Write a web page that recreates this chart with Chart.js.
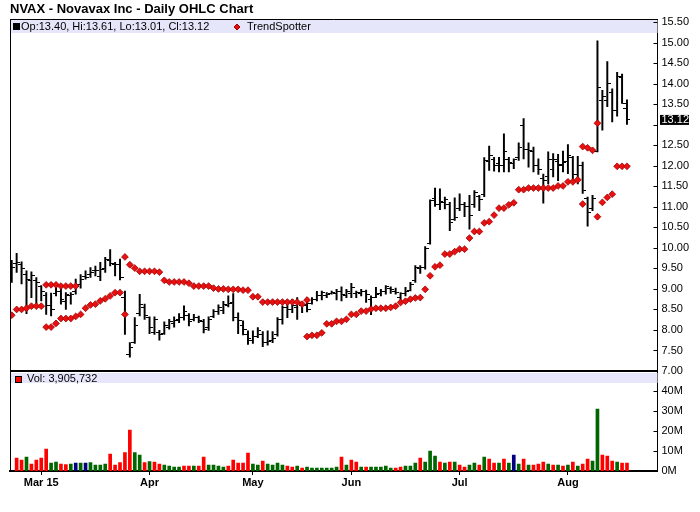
<!DOCTYPE html>
<html><head><meta charset="utf-8">
<script src="https://cdn.jsdelivr.net/npm/chart.js@4.4.1/dist/chart.umd.min.js"></script>
<style>html,body{margin:0;padding:0;background:#fff}canvas{display:block}</style>
</head><body>
<canvas id="c" width="700" height="512"></canvas>
<script>
// ---- data (daily bars, Feb 20 2015 .. Aug 19 2015) ----
const openP = [9.28,9.62,9.60,9.35,9.20,9.20,9.05,8.85,8.60,8.90,8.95,8.70,8.85,8.95,9.10,9.30,9.35,9.45,9.30,9.50,
9.70,9.60,9.60,8.80,7.40,7.70,8.40,8.55,8.30,7.95,7.95,7.92,8.05,8.15,8.25,8.30,8.35,8.25,8.30,8.20,
8.05,8.32,8.45,8.48,8.60,8.67,8.30,8.12,7.90,7.75,7.85,7.90,7.70,7.75,7.90,8.25,8.55,8.50,8.55,8.60,
8.60,8.65,8.75,8.85,8.85,8.90,8.90,8.95,8.85,8.90,8.90,8.90,8.95,8.75,8.80,8.88,8.95,9.00,8.95,8.80,
8.88,8.97,9.20,9.50,9.52,10.10,11.20,11.05,11.10,11.05,10.70,10.95,11.05,11.00,11.05,11.25,11.30,12.10,12.15,12.05,
12.00,12.15,12.05,12.20,12.99,12.40,12.35,12.00,11.70,11.73,11.90,12.10,12.00,12.10,12.20,11.80,12.01,11.20,10.95,12.34,
13.60,13.60,13.80,13.34,14.15,13.40];
const highP = [9.70,9.87,9.66,9.44,9.42,9.28,9.08,8.91,8.90,9.08,9.00,8.91,8.91,9.24,9.35,9.44,9.52,9.56,9.65,9.77,
9.96,9.65,9.73,8.95,7.69,8.30,8.87,8.63,8.32,8.32,7.99,8.20,8.26,8.32,8.40,8.59,8.40,8.38,8.34,8.26,
8.32,8.50,8.61,8.70,8.83,8.89,8.42,8.22,7.98,7.98,8.06,7.96,7.98,7.96,8.30,8.59,8.67,8.75,8.79,8.67,
8.79,8.79,8.94,8.95,8.91,8.95,8.99,9.05,8.99,9.14,8.95,8.99,8.97,8.83,9.04,8.99,9.08,9.05,9.02,8.91,
9.04,9.16,9.57,9.57,10.03,11.17,11.46,11.44,11.24,11.11,11.22,11.32,11.11,11.28,11.40,11.28,12.20,12.48,12.21,12.21,
12.78,12.21,12.17,12.56,13.15,12.56,12.46,12.17,11.80,12.34,12.30,12.28,12.36,12.52,12.23,12.23,12.09,11.24,11.28,15.05,
13.84,14.54,13.88,14.28,14.24,13.61];
const lowP = [9.16,9.40,9.12,8.40,8.79,8.59,8.71,8.38,8.34,8.83,8.63,8.50,8.63,8.87,9.02,9.24,9.28,9.32,9.20,9.40,
9.56,9.32,9.22,7.89,7.34,7.67,8.34,8.26,7.91,7.89,7.75,7.89,8.02,8.07,8.18,8.24,8.10,8.22,8.18,7.93,
7.99,8.30,8.38,8.40,8.56,8.22,7.91,7.88,7.65,7.67,7.81,7.59,7.63,7.69,7.85,8.14,8.30,8.42,8.26,8.42,
8.44,8.63,8.71,8.73,8.79,8.87,8.73,8.71,8.79,8.79,8.79,8.83,8.67,8.37,8.79,8.83,8.87,8.89,8.87,8.67,
8.83,8.95,9.16,9.38,9.48,10.09,11.01,10.93,10.95,10.42,10.67,10.91,10.76,10.46,10.99,10.91,11.25,11.89,11.87,11.85,
11.85,11.85,11.93,12.13,12.17,11.97,11.85,11.79,11.09,11.56,11.73,11.64,11.85,11.81,11.64,11.56,11.33,10.53,10.91,12.34,
12.87,13.44,13.07,13.21,13.52,13.01];
const closeP = [9.52,9.65,9.50,9.24,9.32,9.16,8.94,8.59,8.51,8.95,8.75,8.87,8.86,9.07,9.24,9.28,9.40,9.44,9.48,9.73,
9.62,9.60,9.28,8.38,7.58,8.10,8.63,8.35,8.05,8.25,7.89,8.10,8.20,8.22,8.30,8.45,8.20,8.30,8.22,8.00,
8.25,8.45,8.55,8.62,8.64,8.30,8.22,8.00,7.80,7.83,7.99,7.70,7.73,7.80,8.26,8.55,8.51,8.59,8.67,8.63,
8.51,8.75,8.83,8.91,8.87,8.92,8.95,8.86,8.95,9.04,8.91,8.95,8.87,8.79,8.87,8.95,9.05,8.99,8.92,8.89,
8.95,9.10,9.52,9.52,9.99,11.15,11.07,11.14,11.17,10.63,10.75,11.06,11.01,10.79,11.36,11.19,12.13,12.26,12.01,12.01,
12.34,12.09,12.15,12.46,12.40,12.38,12.01,11.90,11.64,12.15,12.15,12.03,12.09,12.26,11.79,12.01,11.40,10.87,11.20,13.92,
13.68,14.01,13.36,14.18,13.52,13.12];
// volume in millions of shares; direction: u = up, d = down, f = unchanged
const volumeM = [null,6.5,5.5,7.0,3.5,5.5,6.5,11.0,4.0,4.5,3.5,3.2,3.5,4.0,4.0,4.0,4.2,3.0,3.0,3.5,
8.5,3.0,4.2,9.2,20.5,9.2,8.0,4.2,4.7,4.5,3.5,3.0,2.5,2.0,2.0,2.5,2.5,2.5,2.5,7.0,
3.0,3.0,2.5,2.0,2.5,5.5,4.0,4.0,9.0,3.5,3.0,5.0,3.5,3.0,4.0,3.0,2.5,2.0,2.5,1.5,
2.0,1.5,1.5,1.5,1.5,1.5,2.0,7.0,3.0,5.5,4.5,2.0,2.0,2.0,2.0,2.0,2.5,1.5,1.5,2.0,
2.5,2.5,4.0,6.5,4.5,10.0,7.5,4.5,4.0,4.5,4.5,3.0,2.0,3.0,4.0,3.0,7.0,6.0,4.0,4.0,
6.0,4.0,8.0,3.5,6.0,3.0,3.0,3.5,4.5,3.5,3.0,3.0,2.5,3.0,4.5,2.5,3.5,6.0,5.0,31.0,
8.0,7.5,5.0,4.5,4.0,3.905732];
const volumeDir = ['d','d','d','u','d','d','d','d','u','u','d','d','u','f','u','f','u','u','u','u',
'd','d','d','d','d','u','u','d','u','d','d','u','u','u','u','d','d','u','d','d',
'u','u','u','u','d','d','d','d','d','u','u','d','u','u','u','u','d','d','u','d',
'u','u','u','u','u','u','u','d','u','d','d','u','d','u','u','u','u','u','d','d',
'u','u','u','d','u','u','u','d','u','d','u','d','d','u','u','d','u','d','d','u',
'd','u','f','u','d','u','d','d','d','u','d','u','d','u','d','u','d','d','u','u',
'd','d','d','u','d','d'];
const trendUpper = [null,null,null,null,null,null,null,9.10,9.10,9.10,9.07,9.07,9.07,9.07,null,null,null,null,null,null,
null,null,null,9.78,9.59,9.51,9.43,9.43,9.43,9.43,9.41,9.21,9.17,9.17,9.17,9.17,9.14,9.07,9.07,9.07,
9.07,9.02,9.00,9.00,8.99,8.99,8.99,8.97,8.97,8.81,8.81,8.68,8.68,8.68,8.68,8.68,8.68,8.68,8.68,8.63,
8.73,null,null,null,null,null,null,null,null,null,null,null,null,null,null,null,null,null,null,null,
null,null,null,null,null,null,null,null,null,null,null,null,null,null,null,null,null,null,null,null,
null,null,null,null,null,null,null,null,null,null,null,null,null,null,null,null,12.47,12.44,12.38,13.04,
null,null,null,null,null,null];
const trendLower = [8.36,8.50,8.50,8.53,8.58,8.58,8.58,8.07,8.07,8.16,8.28,8.28,8.28,8.33,8.38,8.53,8.61,8.63,8.71,8.76,
8.83,8.91,8.91,8.38,null,null,null,null,null,null,null,null,null,null,null,null,null,null,null,null,
null,null,null,null,null,null,null,null,null,null,null,null,null,null,null,null,null,null,null,null,
7.84,7.87,7.87,7.93,8.15,8.15,8.21,8.21,8.26,8.38,8.38,8.46,8.46,8.51,8.53,8.53,8.53,8.55,8.58,8.67,
8.70,8.75,8.78,8.79,8.99,9.32,9.54,9.58,9.85,9.85,9.91,9.97,9.97,10.24,10.40,10.40,10.61,10.64,10.80,10.97,
10.97,11.05,11.10,11.42,11.42,11.46,11.46,11.46,11.46,11.46,11.46,11.51,11.51,11.61,11.61,11.66,11.07,null,null,10.76,
11.11,11.23,11.31,11.99,11.99,11.99];
const monthLabels = ['Mar 15','Apr','May','Jun','Jul','Aug'];
const monthStartIdx = [6,28,49,69,91,113];
const priceTicks = [7.0,7.5,8.0,8.5,9.0,9.5,10.0,10.5,11.0,11.5,12.0,12.5,13.0,13.5,14.0,14.5,15.0,15.5];
const volumeTicks = [0,10,20,30,40];
const titleText = 'NVAX - Novavax Inc - Daily OHLC Chart';
const volumeLegend = 'Vol: 3,905,732';

// ---- rendering ----
const FONT = '"Liberation Sans", Arial, sans-serif';
Chart.defaults.font.family = FONT;
const last = closeP.length - 1;
const fmt = v => v.toFixed(2);
const priceLegend = 'Op:' + fmt(openP[last]) + ', Hi:' + fmt(highP[last]) + ', Lo:' + fmt(lowP[last]) + ', Cl:' + fmt(closeP[last]);

function tickMark(side) {
  const c = document.createElement('canvas');
  c.width = 7; c.height = 1;
  const g = c.getContext('2d');
  g.fillStyle = '#000';
  if (side === 'L') g.fillRect(0, 0, 3, 1); else g.fillRect(4, 0, 3, 1);
  return c;
}
const xy = arr => arr.map((v, i) => ({x: i, y: v}));
const dirColor = {u: '#006600', d: '#ff0000', f: '#000080'};

const decor = {
  id: 'decor',
  beforeDraw(chart) {
    const ctx = chart.ctx;
    ctx.save(); ctx.fillStyle = '#fff'; ctx.fillRect(0, 0, chart.width, chart.height); ctx.restore();
  },
  beforeDatasetsDraw(chart) {
    const ctx = chart.ctx, a = chart.chartArea, yv = chart.scales.yv, y = chart.scales.y;
    ctx.save();
    ctx.fillStyle = '#e6e6fa';
    ctx.fillRect(a.left + 1, y.top + 1, a.right - a.left - 1, 13);
    ctx.fillRect(a.left + 1, yv.top + 2, a.right - a.left - 1, 10);
    ctx.restore();
  },
  afterDraw(chart) {
    const ctx = chart.ctx, a = chart.chartArea, y = chart.scales.y, yv = chart.scales.yv;
    ctx.save();
    ctx.strokeStyle = '#000'; ctx.fillStyle = '#000';
    // frame
    ctx.lineWidth = 1;
    ctx.beginPath();
    ctx.moveTo(a.left + 0.5, a.top); ctx.lineTo(a.left + 0.5, a.bottom);
    ctx.moveTo(a.left, a.top + 0.5); ctx.lineTo(a.right, a.top + 0.5);
    ctx.stroke();
    ctx.lineWidth = 2;
    ctx.beginPath();
    ctx.moveTo(a.left, y.bottom); ctx.lineTo(a.right, y.bottom);
    ctx.stroke();
    // inward tick marks on right axes
    ctx.lineWidth = 1;
    ctx.beginPath();
    [y, yv].forEach(s => s.ticks.forEach(t => {
      const py = Math.round(s.getPixelForValue(t.value)) + 0.5;
      ctx.moveTo(s.left - 4, py); ctx.lineTo(s.left, py);
    }));
    ctx.stroke();
    // legends
    ctx.font = '11px ' + FONT;
    ctx.textBaseline = 'middle';
    ctx.textAlign = 'left';
    const ly = y.top + 8;
    ctx.fillRect(a.left + 3, ly - 4, 7, 7);
    ctx.fillText(priceLegend, a.left + 11, ly);
    const dx = a.left + 227;
    ctx.fillStyle = '#e01010'; ctx.strokeStyle = '#a00000';
    ctx.beginPath();
    ctx.moveTo(dx, ly - 3); ctx.lineTo(dx + 3, ly); ctx.lineTo(dx, ly + 3); ctx.lineTo(dx - 3, ly); ctx.closePath();
    ctx.fill(); ctx.stroke();
    ctx.fillStyle = '#000';
    ctx.fillText('TrendSpotter', a.left + 237, ly);
    const vy = yv.top + 8;
    ctx.fillStyle = '#ff0000';
    ctx.fillRect(a.left + 5, vy - 3, 7, 7);
    ctx.strokeStyle = '#000'; ctx.strokeRect(a.left + 5.5, vy - 2.5, 6, 6);
    ctx.fillStyle = '#000';
    ctx.fillText(volumeLegend, a.left + 17, vy);
    // last price marker
    const pyl = y.getPixelForValue(closeP[last]);
    ctx.fillStyle = '#000';
    ctx.fillRect(y.left + 2.5, pyl - 5, 29, 10);
    ctx.fillStyle = '#fff';
    ctx.fillText(fmt(closeP[last]), y.left + 4, pyl + 0.5);
    ctx.restore();
  }
};

new Chart(document.getElementById('c'), {
  type: 'bar',
  data: {
    datasets: [
      { type: 'bar', label: 'range', data: closeP.map((_, i) => ({x: i, y: [lowP[i], highP[i]]})),
        yAxisID: 'y', backgroundColor: '#000', barThickness: 1.3, grouped: false, order: 3 },
      { type: 'line', label: 'open', data: xy(openP), yAxisID: 'y', showLine: false,
        pointStyle: tickMark('L'), pointRadius: 3, order: 2 },
      { type: 'line', label: 'close', data: xy(closeP), yAxisID: 'y', showLine: false,
        pointStyle: tickMark('R'), pointRadius: 3, order: 2 },
      { type: 'line', label: 'TrendSpotter', data: xy(trendUpper), yAxisID: 'y', showLine: false,
        pointStyle: 'rectRot', pointRadius: 3.4, pointBackgroundColor: '#e81010', pointBorderColor: '#a00000', pointBorderWidth: 0.8, order: 1 },
      { type: 'line', label: 'TrendSpotter ', data: xy(trendLower), yAxisID: 'y', showLine: false,
        pointStyle: 'rectRot', pointRadius: 3.4, pointBackgroundColor: '#e81010', pointBorderColor: '#a00000', pointBorderWidth: 0.8, order: 1 },
      { type: 'bar', label: 'Volume', data: xy(volumeM), yAxisID: 'yv', barThickness: 3, grouped: false,
        backgroundColor: volumeDir.map(d => dirColor[d]), order: 4 }
    ]
  },
  options: {
    responsive: false, animation: false, devicePixelRatio: 1, events: [],
    layout: { padding: { left: 10, right: 0, top: 0, bottom: 0 } },
    plugins: {
      legend: { display: false }, tooltip: { enabled: false },
      title: { display: true, text: titleText, align: 'start', color: '#000',
        font: { size: 13, weight: 'bold', family: FONT }, padding: { top: 2, bottom: 1.4 } }
    },
    scales: {
      x: { type: 'linear', min: -0.35, max: 131.2, offset: false, position: 'bottom',
        grid: { display: true, offset: false, drawOnChartArea: false, drawTicks: true, tickLength: 4, color: '#000' },
        border: { display: true, color: '#000', width: 2 },
        ticks: { autoSkip: false, maxRotation: 0, color: '#000', padding: 1,
          font: { size: 11, weight: 'bold', family: FONT },
          callback: v => { const k = monthStartIdx.indexOf(v); return k >= 0 ? monthLabels[k] : ''; } },
        afterBuildTicks: s => { s.ticks = monthStartIdx.map(v => ({value: v})); },
        afterFit: s => { s.height = 41; } },
      y: { type: 'linear', position: 'right', stack: 'panels', stackWeight: 352, min: 7, max: 15.58,
        grid: { display: false, drawTicks: false },
        border: { display: true, color: '#000', width: 1 },
        ticks: { autoSkip: false, color: '#000', padding: 4, font: { size: 11, family: FONT },
          callback: v => Math.abs(v - closeP[last]) < 0.2 ? '' : v.toFixed(2) },
        afterBuildTicks: s => { s.ticks = priceTicks.map(v => ({value: v})); },
        afterFit: s => { s.width = 42.5; } },
      yv: { type: 'linear', position: 'right', stack: 'panels', stackWeight: 100, min: 0, max: 50,
        grid: { display: false, drawTicks: false },
        border: { display: true, color: '#000', width: 1 },
        ticks: { autoSkip: false, color: '#000', padding: 4, font: { size: 11, family: FONT }, callback: v => v + 'M' },
        afterBuildTicks: s => { s.ticks = volumeTicks.map(v => ({value: v})); },
        afterFit: s => { s.width = 42.5; } }
    }
  },
  plugins: [decor]
});
</script>
</body></html>
